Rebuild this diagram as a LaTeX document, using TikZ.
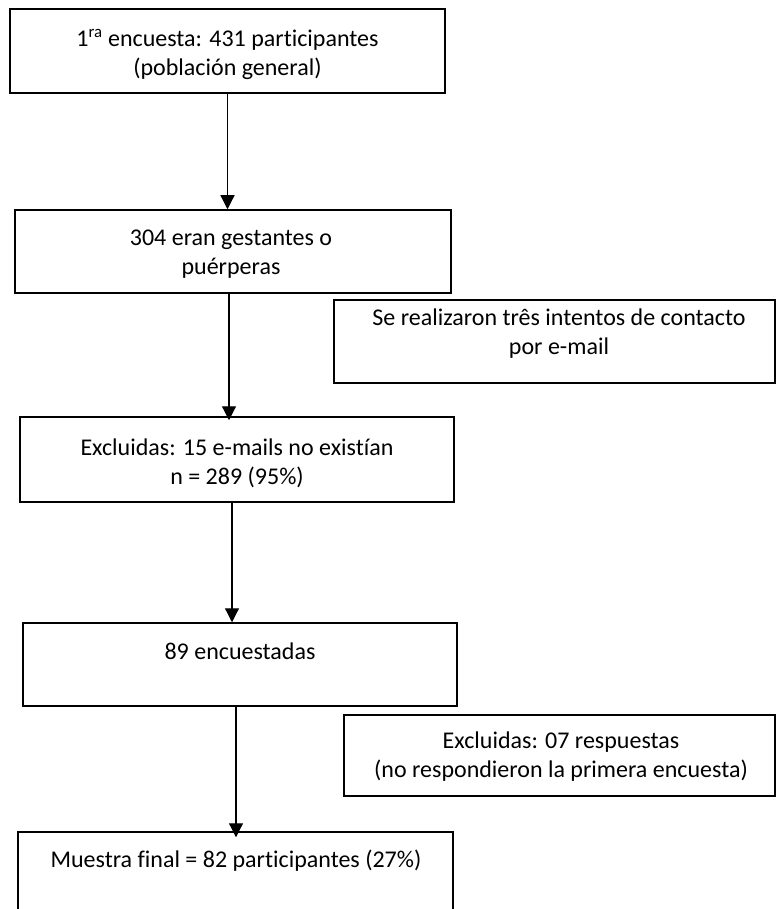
\documentclass[tikz,border=0pt]{standalone}
\usepackage{fontspec}
\setmainfont{Carlito}[Ligatures=NoCommon]
\usetikzlibrary{arrows.meta}
\tikzset{
  box/.style={draw=black, line width=1.5pt, rectangle, inner sep=0pt},
  txt/.style={align=center, inner sep=0pt, font=\fontsize{24}{29}\selectfont},
  conn/.style={line width=1.2pt, -{Triangle[width=14pt,length=14pt]}}
}
\begin{document}
\begin{tikzpicture}[x=1pt,y=-1pt]
\useasboundingbox (0,0) rectangle (776,909);
\clip (0,0) rectangle (776,909);
% boxes
\node[box, minimum width=435pt, minimum height=84pt] (b1) at (227.5,51) {};
\node[box, minimum width=436pt, minimum height=83pt] (b2) at (233,251.5) {};
\node[box, minimum width=441pt, minimum height=83pt] (b3) at (554.5,341.5) {};
\node[box, minimum width=434pt, minimum height=85pt] (b4) at (237,459.5) {};
\node[box, minimum width=434pt, minimum height=83pt] (b5) at (240,664.5) {};
\node[box, minimum width=431pt, minimum height=81pt] (b6) at (559.5,755.5) {};
\node[box, minimum width=435pt, minimum height=83pt] (b7) at (235.5,873.5) {};
% texts
\node[txt] (t1) at (227.5,54) {1\textsuperscript{ra} encuesta: 431 participantes\\(población general)};
\node[txt] (t2) at (231,254) {304 eran gestantes o\\puérperas};
\node[txt] (t3) at (559,334) {Se realizaron três intentos de contacto\\por e-mail};
\node[txt] (t4) at (237,463) {Excluidas: 15 e-mails no existían\\n = 289 (95\%)};
\node[txt] (t5) at (240,651) {89 encuestadas};
\node[txt] (t6) at (561,756.5) {Excluidas: 07 respuestas\\(no respondieron la primera encuesta)};
\node[txt] (t7) at (236,861) {Muestra final = 82 participantes (27\%)};
% connectors
\draw[conn] (b1.south) -- (b1.south |- b2.north);
\draw[conn] ([xshift=-4pt]b2.south) -- ([xshift=-4pt,yshift=-4pt]b2.south |- b4.north);
\draw[conn] ([xshift=-5pt]b4.south) -- ([xshift=-5pt]b4.south |- b5.north);
\draw[conn] ([xshift=-4pt]b5.south) -- ([xshift=-4pt,yshift=-6pt]b5.south |- b7.north);
\end{tikzpicture}
\end{document}
